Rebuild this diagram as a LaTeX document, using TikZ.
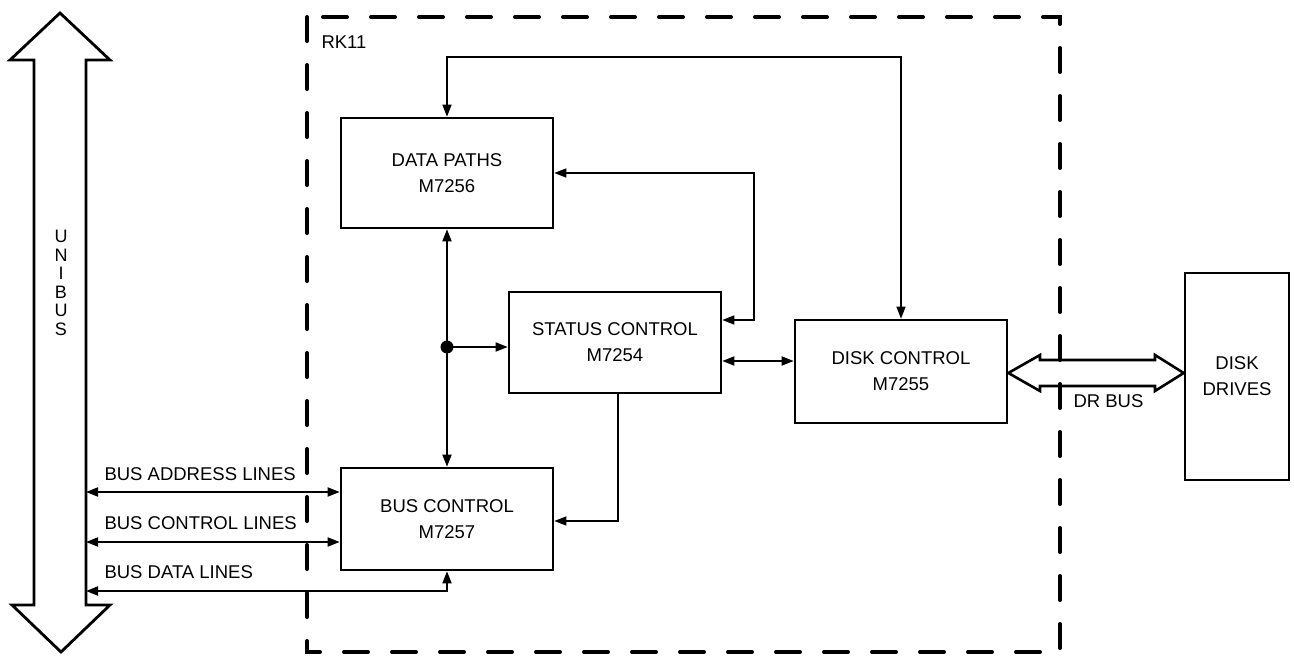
\documentclass[tikz,border=0pt]{standalone}
\usepackage{fontspec}
\setmainfont{Liberation Sans}
\usetikzlibrary{arrows.meta}
\begin{document}
\begin{tikzpicture}[x=1pt,y=-1pt,
  >={Triangle[length=12pt,width=9pt]},
  every node/.style={font=\fontsize{18.5}{26}\selectfont},
  blk/.style={draw,line width=2.6pt,rectangle,inner sep=0pt,align=center},
  conn/.style={line width=1.8pt},
  thin conn/.style={line width=1.3pt},
  bigarrow/.style={draw,line width=2.8pt,line join=miter},
  rkframe/.style={line width=4pt,line cap=round,dash pattern=on 24pt off 24pt}]
\useasboundingbox (0,0) rectangle (1294,658);
% RK11 frame
\draw[rkframe] (307,17) rectangle (1060,652);
\node[anchor=west] (rk) at (318,42) {RK11};
% blocks
\node[blk,minimum width=212pt,minimum height=110pt] (dp) at (447,173) {DATA PATHS\\M7256};
\node[blk,minimum width=212pt,minimum height=101pt] (sc) at (615,342.5) {STATUS CONTROL\\M7254};
\node[blk,minimum width=212pt,minimum height=103pt] (dc) at (901,371.5) {DISK CONTROL\\M7255};
\node[blk,minimum width=212pt,minimum height=102pt] (bc) at (447,519) {BUS CONTROL\\M7257};
\node[blk,minimum width=104pt,minimum height=207pt] (dd) at (1237,376.5) {DISK\\DRIVES};
% UNIBUS
\coordinate (ubl) at (34,0);
\coordinate (ubr) at (86,0);
\draw[bigarrow] (60,13) -- (110,60) -- (86,60) -- (86,605) -- (110,605) -- (61,652)
  -- (12,605) -- (34,605) -- (34,60) -- (10,60) -- cycle;
\node[align=center,font=\fontsize{18}{18.5}\selectfont] (ubt) at (61,283) {U\\N\\I\\B\\U\\S};
% connectors
\coordinate (top) at (447,57);
\draw[thin conn,<->] (dp.north) -- (dp.north |- top) -| (dc.north);
\coordinate (fb) at (754,320);
\draw[thin conn,<->] (dp.east) -| (fb) -- (fb -| sc.east);
\draw[conn,<->] (dp.south) -- (bc.north);
\coordinate (j) at (447,347);
\fill (j) circle (6.5pt);
\draw[conn,->] (j) -- (j -| sc.west);
\draw[conn,<->] (sc.east |- 0,361) -- (dc.west |- 0,361);
\coordinate (sb) at (618,521);
\draw[thin conn,->] (sb |- sc.south) -- (sb) -- (sb -| bc.east);
% bus lines
\draw[conn,<->] (ubr |- 0,492) -- (bc.west |- 0,492);
\draw[conn,<->] (ubr |- 0,542) -- (bc.west |- 0,542);
\coordinate (dl) at (447,591);
\draw[conn,<->] (ubr |- dl) -- (dl) -- (bc.south);
\node[anchor=west] (la) at (101,474) {BUS ADDRESS LINES};
\node[anchor=west] (lc) at (101,523) {BUS CONTROL LINES};
\node[anchor=west] (ld) at (101,572) {BUS DATA LINES};
% DR BUS
\draw[bigarrow,line width=2.6pt] (dc.east |- 0,373) -- (1040,355) -- (1040,360) -- (1155,360) -- (1155,355)
  -- (dd.west |- 0,373) -- (1155,391) -- (1155,386) -- (1040,386) -- (1040,391) -- cycle;
\node[anchor=west] (drb) at (1070,401) {DR BUS};
\end{tikzpicture}
\end{document}
